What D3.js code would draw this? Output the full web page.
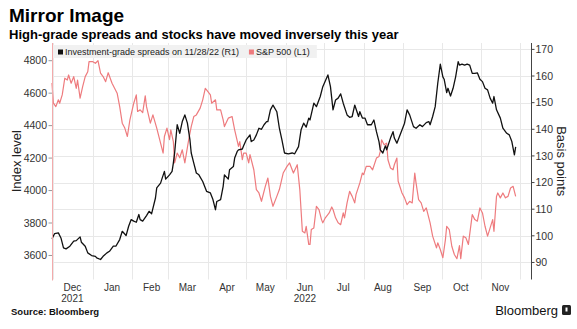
<!DOCTYPE html>
<html>
<head>
<meta charset="utf-8">
<script src="https://cdn.jsdelivr.net/npm/d3@7"></script>
<style>
  body { margin: 0; background: #fff; }
  svg { display: block; font-family: "Liberation Sans", Arial, sans-serif; }
  .tick-label { font-size: 10.5px; fill: #333; }
  .month { font-size: 10px; fill: #333; }
</style>
</head>
<body>
<div id="chart"></div>
<script>
// S&P 500 index level (left axis)
var spx = [
  ["2021-11-30",4663],["2021-12-01",4540],["2021-12-03",4517],["2021-12-05",4559],["2021-12-06",4538],
  ["2021-12-08",4589],["2021-12-09",4640],["2021-12-10",4692],["2021-12-12",4681],["2021-12-13",4712],
  ["2021-12-15",4661],["2021-12-17",4702],["2021-12-19",4630],["2021-12-20",4681],["2021-12-22",4569],
  ["2021-12-24",4640],["2021-12-26",4702],["2021-12-28",4732],["2021-12-29",4794],["2022-01-01",4794],
  ["2022-01-03",4784],["2022-01-05",4800],["2022-01-07",4723],["2022-01-09",4702],["2022-01-11",4671],
  ["2022-01-13",4726],["2022-01-16",4661],["2022-01-20",4600],["2022-01-22",4517],["2022-01-24",4415],
  ["2022-01-26",4385],["2022-01-28",4333],["2022-01-30",4436],["2022-02-02",4538],["2022-02-04",4589],
  ["2022-02-05",4487],["2022-02-07",4497],["2022-02-09",4480],["2022-02-11",4583],["2022-02-12",4517],
  ["2022-02-15",4415],["2022-02-17",4466],["2022-02-20",4385],["2022-02-23",4292],["2022-02-25",4231],
  ["2022-02-26",4333],["2022-02-28",4385],["2022-03-02",4313],["2022-03-03",4374],["2022-03-05",4302],
  ["2022-03-06",4170],["2022-03-08",4231],["2022-03-10",4202],["2022-03-12",4251],["2022-03-14",4170],
  ["2022-03-17",4313],["2022-03-19",4394],["2022-03-21",4456],["2022-03-23",4466],["2022-03-26",4508],
  ["2022-03-28",4559],["2022-03-30",4630],["2022-03-31",4620],["2022-04-03",4589],["2022-04-04",4538],
  ["2022-04-07",4559],["2022-04-08",4497],["2022-04-11",4497],["2022-04-13",4436],["2022-04-14",4394],
  ["2022-04-17",4446],["2022-04-20",4456],["2022-04-22",4374],["2022-04-25",4272],["2022-04-26",4302],
  ["2022-04-28",4190],["2022-04-29",4231],["2022-05-01",4231],["2022-05-03",4170],["2022-05-04",4221],
  ["2022-05-07",4128],["2022-05-09",4006],["2022-05-11",3985],["2022-05-13",3934],["2022-05-16",4026],
  ["2022-05-18",4077],["2022-05-20",3964],["2022-05-22",3903],["2022-05-25",3964],["2022-05-27",4006],
  ["2022-05-30",4108],["2022-06-02",4149],["2022-06-04",4170],["2022-06-07",4108],["2022-06-10",4159],
  ["2022-06-12",4006],["2022-06-14",3749],["2022-06-16",3739],["2022-06-17",3780],["2022-06-19",3668],
  ["2022-06-20",3668],["2022-06-21",3760],["2022-06-23",3770],["2022-06-25",3903],["2022-06-27",3883],
  ["2022-06-29",3821],["2022-06-30",3801],["2022-07-02",3832],["2022-07-05",3862],["2022-07-07",3899],
  ["2022-07-08",3883],["2022-07-10",3832],["2022-07-12",3801],["2022-07-14",3790],["2022-07-16",3862],
  ["2022-07-17",3832],["2022-07-19",3924],["2022-07-21",3995],["2022-07-23",3964],["2022-07-25",3924],
  ["2022-07-26",3975],["2022-07-29",4047],["2022-07-31",4108],["2022-08-01",4098],["2022-08-03",4149],
  ["2022-08-06",4149],["2022-08-08",4128],["2022-08-11",4200],["2022-08-13",4210],["2022-08-14",4241],
  ["2022-08-15",4313],["2022-08-17",4282],["2022-08-19",4292],["2022-08-20",4190],["2022-08-22",4139],
  ["2022-08-24",4128],["2022-08-25",4159],["2022-08-27",4200],["2022-08-28",4057],["2022-08-31",3985],
  ["2022-09-02",3955],["2022-09-04",3913],["2022-09-06",3934],["2022-09-08",3924],["2022-09-10",4108],
  ["2022-09-11",4047],["2022-09-13",3944],["2022-09-15",3924],["2022-09-17",3872],["2022-09-19",3893],
  ["2022-09-22",3801],["2022-09-24",3719],["2022-09-27",3647],["2022-09-28",3678],["2022-09-30",3637],
  ["2022-10-02",3586],["2022-10-04",3698],["2022-10-05",3780],["2022-10-07",3760],["2022-10-09",3657],
  ["2022-10-11",3606],["2022-10-13",3580],["2022-10-15",3661],["2022-10-16",3580],["2022-10-18",3719],
  ["2022-10-20",3709],["2022-10-22",3668],["2022-10-25",3852],["2022-10-27",3821],["2022-10-29",3811],
  ["2022-10-31",3893],["2022-11-02",3862],["2022-11-04",3780],["2022-11-06",3719],["2022-11-08",3770],
  ["2022-11-10",3821],["2022-11-11",3749],["2022-11-13",3964],["2022-11-14",3985],["2022-11-16",3955],
  ["2022-11-18",3985],["2022-11-20",3955],["2022-11-22",3964],["2022-11-24",4016],["2022-11-26",4026],
  ["2022-11-28",3964]
]

// investment-grade spreads, basis points (right axis)
var spreads = [
  ["2021-11-30",98.9],["2021-12-02",100.8],["2021-12-05",101.1],["2021-12-07",99.2],["2021-12-09",95.5],
  ["2021-12-11",95.1],["2021-12-14",96.1],["2021-12-17",98.0],["2021-12-19",98.2],["2021-12-22",99.6],
  ["2021-12-23",97.6],["2021-12-26",96.1],["2021-12-28",93.6],["2021-12-31",92.6],["2022-01-03",92.3],
  ["2022-01-04",91.7],["2022-01-07",91.1],["2022-01-09",92.3],["2022-01-12",93.6],["2022-01-14",94.2],
  ["2022-01-17",96.1],["2022-01-19",96.1],["2022-01-22",98.6],["2022-01-24",101.7],["2022-01-27",100.1],
  ["2022-01-29",103.6],["2022-01-31",106.1],["2022-02-02",105.5],["2022-02-04",105.1],["2022-02-06",108.0],
  ["2022-02-07",106.1],["2022-02-09",105.5],["2022-02-12",107.6],["2022-02-14",109.2],["2022-02-16",108.3],
  ["2022-02-19",114.2],["2022-02-20",118.0],["2022-02-23",119.8],["2022-02-24",121.3],["2022-02-26",124.2],
  ["2022-02-27",121.3],["2022-03-02",122.9],["2022-03-04",124.2],["2022-03-05",127.3],["2022-03-06",131.1],
  ["2022-03-08",141.7],["2022-03-10",138.5],["2022-03-12",142.9],["2022-03-14",145.4],["2022-03-16",142.3],
  ["2022-03-18",136.0],["2022-03-19",131.1],["2022-03-21",127.3],["2022-03-23",123.6],["2022-03-25",122.9],
  ["2022-03-28",120.4],["2022-03-31",116.7],["2022-04-03",116.1],["2022-04-05",113.6],["2022-04-07",109.8],
  ["2022-04-08",112.9],["2022-04-11",113.6],["2022-04-13",118.6],["2022-04-14",122.9],["2022-04-17",121.3],
  ["2022-04-18",124.8],["2022-04-21",126.0],["2022-04-22",129.2],["2022-04-24",131.7],["2022-04-25",132.3],
  ["2022-04-28",132.6],["2022-04-29",133.8],["2022-05-01",136.0],["2022-05-04",137.9],["2022-05-05",135.4],
  ["2022-05-07",136.0],["2022-05-09",137.9],["2022-05-11",140.4],["2022-05-13",140.0],["2022-05-15",141.7],
  ["2022-05-17",142.9],["2022-05-18",142.9],["2022-05-20",147.3],["2022-05-22",149.1],["2022-05-25",146.6],
  ["2022-05-27",140.4],["2022-05-29",136.0],["2022-05-31",131.1],["2022-06-03",130.8],["2022-06-06",131.1],
  ["2022-06-08",130.8],["2022-06-11",133.5],["2022-06-13",139.8],["2022-06-15",142.3],["2022-06-17",140.8],
  ["2022-06-19",144.2],["2022-06-20",143.5],["2022-06-23",149.8],["2022-06-25",148.5],["2022-06-28",152.3],
  ["2022-06-30",156.0],["2022-07-04",160.4],["2022-07-06",156.0],["2022-07-08",147.3],["2022-07-10",151.0],
  ["2022-07-12",151.7],["2022-07-14",153.3],["2022-07-16",149.8],["2022-07-19",145.4],["2022-07-21",144.5],
  ["2022-07-23",144.8],["2022-07-25",149.1],["2022-07-28",144.8],["2022-07-29",146.6],["2022-07-31",144.2],
  ["2022-08-02",144.2],["2022-08-04",141.7],["2022-08-07",141.7],["2022-08-09",143.5],["2022-08-11",139.1],
  ["2022-08-13",135.4],["2022-08-14",132.3],["2022-08-16",131.1],["2022-08-18",133.8],["2022-08-19",132.3],
  ["2022-08-22",136.7],["2022-08-24",139.1],["2022-08-25",136.7],["2022-08-27",134.8],["2022-08-30",138.5],
  ["2022-09-02",142.3],["2022-09-04",147.3],["2022-09-06",145.4],["2022-09-09",141.0],["2022-09-11",140.4],
  ["2022-09-14",141.7],["2022-09-16",141.0],["2022-09-19",142.5],["2022-09-21",142.9],["2022-09-22",141.7],
  ["2022-09-24",144.8],["2022-09-26",148.5],["2022-09-28",157.3],["2022-09-30",164.5],["2022-10-02",159.7],
  ["2022-10-03",158.8],["2022-10-05",153.8],["2022-10-06",155.4],["2022-10-08",152.5],["2022-10-10",155.4],
  ["2022-10-12",159.7],["2022-10-14",165.4],["2022-10-15",164.1],["2022-10-17",164.5],["2022-10-19",164.1],
  ["2022-10-21",164.5],["2022-10-23",164.1],["2022-10-25",161.0],["2022-10-27",161.0],["2022-10-29",161.2],
  ["2022-10-31",158.8],["2022-11-02",157.9],["2022-11-04",155.4],["2022-11-06",154.8],["2022-11-08",151.7],
  ["2022-11-10",149.8],["2022-11-11",152.3],["2022-11-13",147.3],["2022-11-16",144.2],["2022-11-18",140.4],
  ["2022-11-21",138.5],["2022-11-23",137.9],["2022-11-25",135.4],["2022-11-27",130.4],["2022-11-28",133.4]
]

var leftTicks = [3600, 3800, 4000, 4200, 4400, 4600, 4800]
var rightTicks = [90, 100, 110, 120, 130, 140, 150, 160, 170]
var yearLabels = [["2021-12-16", "2021"], ["2022-06-16", "2022"]]
var legendItems = [
  {name: "Investment-grade spreads on 11/28/22 (R1)", color: "#111"},
  {name: "S&P 500 (L1)", color: "#ee7b7e"}
]

// plot box (note: "top" is taken by window.top, so prefixed names)
var width = 577,
    height = 329,
    plotL = 52,
    plotR = 531,
    plotT = 43,
    plotB = 279.5

var parse = d3.timeParse("%Y-%m-%d")

var x = d3.scaleTime()
  .domain([parse("2021-11-30"), parse("2022-12-10")])
  .range([plotL, plotR])

var yL = d3.scaleLinear()
  .domain([3452, 4909])
  .range([plotB, plotT])

var yR = d3.scaleLinear()
  .domain([83.6, 172.4])
  .range([plotB, plotT])

var svg = d3.select("#chart").append("svg")
    .attr("width", width)
    .attr("height", height)

// titles
svg.append("text")
    .attr("x", 9).attr("y", 22)
    .style("font-size", "19px").style("font-weight", "bold").style("fill", "#000")
    .text("Mirror Image")

svg.append("text")
    .attr("x", 9).attr("y", 38.5)
    .style("font-size", "13px").style("font-weight", "bold").style("fill", "#000")
    .text("High-grade spreads and stocks have moved inversely this year")

// grid
var monthStarts = d3.timeMonth.range(parse("2021-12-01"), parse("2022-12-02"))

svg.append("g").selectAll("line")
    .data(monthStarts)
  .enter().append("line")
    .attr("x1", function(d) { return Math.round(x(d)) + 0.5 })
    .attr("x2", function(d) { return Math.round(x(d)) + 0.5 })
    .attr("y1", plotT).attr("y2", plotB)
    .style("stroke", "#e8e8e8")

svg.append("g").selectAll("line")
    .data(rightTicks)
  .enter().append("line")
    .attr("x1", plotL).attr("x2", plotR)
    .attr("y1", function(d) { return Math.round(yR(d)) + 0.5 })
    .attr("y2", function(d) { return Math.round(yR(d)) + 0.5 })
    .style("stroke", "#e8e8e8")

// legend
var lg = svg.append("g")
var lgBg = lg.append("rect")
    .attr("x", plotL + 1).attr("y", 45).attr("height", 13)
    .style("fill", "#f1f1f1")

var cx = 58
legendItems.forEach(function(item) {
  lg.append("rect")
      .attr("x", cx).attr("y", 49.5).attr("width", 5).attr("height", 5)
      .style("fill", item.color)
  var t = lg.append("text")
      .attr("x", cx + 7).attr("y", 55)
      .style("font-size", "9px").style("fill", "#222")
      .text(item.name)
  cx = cx + 7 + t.node().getComputedTextLength() + 10
})
lgBg.attr("width", cx - plotL - 4)

// lines
var spxLine = d3.line()
  .x(function(d) { return x(parse(d[0])) })
  .y(function(d) { return yL(d[1]) })

var spreadLine = d3.line()
  .x(function(d) { return x(parse(d[0])) })
  .y(function(d) { return yR(d[1]) })

svg.append("path")
    .datum(spx)
    .attr("d", spxLine)
    .style("fill", "none")
    .style("stroke", "#ee7b7e")
    .style("stroke-width", 1.2)
    .style("stroke-linejoin", "round")

svg.append("path")
    .datum(spreads)
    .attr("d", spreadLine)
    .style("fill", "none")
    .style("stroke", "#111")
    .style("stroke-width", 1.3)
    .style("stroke-linejoin", "round")

// left axis
svg.append("line")
    .attr("x1", plotL + 0.5).attr("x2", plotL + 0.5)
    .attr("y1", plotT).attr("y2", plotB + 1)
    .style("stroke", "#f3aaab")

var la = svg.append("g").selectAll("g")
    .data(leftTicks)
  .enter().append("g")
    .attr("transform", function(d) { return "translate(0," + yL(d) + ")" })
la.append("line")
    .attr("x1", plotL - 3.5).attr("x2", plotL)
    .style("stroke", "#999")
la.append("text")
    .attr("class", "tick-label")
    .attr("x", plotL - 5).attr("dy", "0.35em")
    .attr("text-anchor", "end")
    .text(function(d) { return d })

// right axis
svg.append("line")
    .attr("x1", plotR + 0.5).attr("x2", plotR + 0.5)
    .attr("y1", plotT).attr("y2", plotB)
    .style("stroke", "#444")

var ra = svg.append("g").selectAll("g")
    .data(rightTicks)
  .enter().append("g")
    .attr("transform", function(d) { return "translate(0," + yR(d) + ")" })
ra.append("line")
    .attr("x1", plotR).attr("x2", plotR + 3.5)
    .style("stroke", "#444")
ra.append("text")
    .attr("class", "tick-label")
    .attr("x", plotR + 4.5).attr("dy", "0.35em")
    .text(function(d) { return d })

// axis titles
svg.append("text")
    .attr("transform", "translate(21," + ((plotT + plotB) / 2) + ") rotate(-90)")
    .attr("text-anchor", "middle")
    .style("font-size", "13px").style("fill", "#222")
    .text("Index level")

svg.append("text")
    .attr("transform", "translate(557," + ((plotT + plotB) / 2) + ") rotate(90)")
    .attr("text-anchor", "middle")
    .style("font-size", "13px").style("fill", "#222")
    .text("Basis points")

// month labels at mid-month
var fmt = d3.timeFormat("%b")
svg.append("g").selectAll("text")
    .data(monthStarts.slice(0, 12))
  .enter().append("text")
    .attr("class", "month")
    .attr("x", function(d) { return x(d3.timeDay.offset(d, 15)) })
    .attr("y", 290.5)
    .attr("text-anchor", "middle")
    .text(function(d) { return fmt(d) })

svg.append("g").selectAll("text")
    .data(yearLabels)
  .enter().append("text")
    .attr("class", "month")
    .attr("x", function(d) { return x(parse(d[0])) })
    .attr("y", 302)
    .attr("text-anchor", "middle")
    .text(function(d) { return d[1] })

// footer
svg.append("text")
    .attr("x", 11).attr("y", 315)
    .style("font-size", "9.5px").style("font-weight", "bold").style("fill", "#111")
    .text("Source: Bloomberg")

svg.append("text")
    .attr("x", 558).attr("y", 315)
    .attr("text-anchor", "end")
    .style("font-size", "13px").style("fill", "#111")
    .text("Bloomberg")

svg.append("rect")
    .attr("x", 562).attr("y", 305).attr("width", 9).attr("height", 10).attr("rx", 1.5)
    .style("fill", "#222")
svg.append("rect")
    .attr("x", 565.5).attr("y", 307.5).attr("width", 2).attr("height", 4)
    .style("fill", "#fff")
</script>
</body>
</html>
